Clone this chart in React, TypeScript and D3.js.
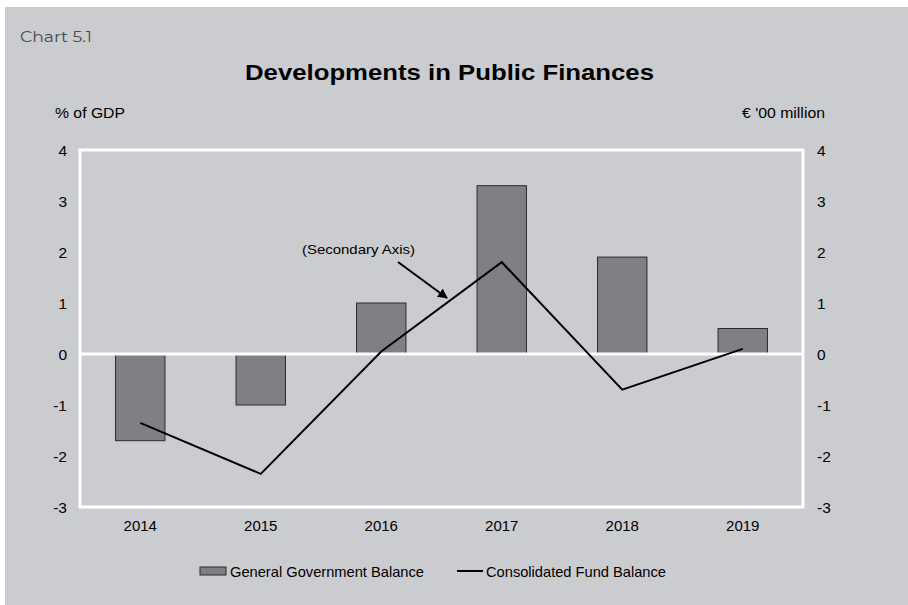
import React from "react";
import * as d3 from "d3";

const years = ["2014", "2015", "2016", "2017", "2018", "2019"];
const govBalance = [-1.7, -1.0, 1.0, 3.3, 1.9, 0.5];
const fundBalance = [-1.35, -2.35, 0.05, 1.8, -0.7, 0.1];
const yTicks = [-3, -2, -1, 0, 1, 2, 3, 4];

const W = 908, H = 605;
const plot = { left: 80, right: 803, top: 150, bottom: 507 };
const font = "Liberation Sans, Arial, sans-serif";

export default function App() {
  const x = d3.scaleBand<string>().domain(years).range([plot.left, plot.right]).paddingInner(0.59).paddingOuter(0.295);
  const y = d3.scaleLinear().domain([-3, 4]).range([plot.bottom, plot.top]);
  const y2 = d3.scaleLinear().domain([-3, 4]).range([plot.bottom, plot.top]);
  const cx = (d: string) => (x(d) as number) + x.bandwidth() / 2;
  const line = d3.line<number>().x((_, i) => cx(years[i])).y((d) => y2(d));

  return (
    <div style={{ position: "absolute", left: 0, top: 0 }}>
      <svg width={W} height={H} style={{ display: "block" }}>
        <defs>
          <marker id="arr" viewBox="0 0 10 10" refX="9" refY="5" markerWidth="5" markerHeight="5" orient="auto">
            <path d="M0,0 L10,5 L0,10 z" fill="#000" />
          </marker>
        </defs>
        <rect x={0} y={0} width={W} height={H} fill="#ffffff" />
        <rect x={5} y={7} width={W - 5} height={H - 7} fill="#cbcccf" />
        <text x={20} y={42} fontFamily="Montserrat, Open Sans, sans-serif" fontSize={15.5} fill="#4a4a4a" textLength={72} lengthAdjust="spacingAndGlyphs">Chart 5.1</text>
        <text x={245} y={80} fontFamily={font} fontWeight="bold" fontSize={22.5} fill="#000" textLength={409} lengthAdjust="spacingAndGlyphs">Developments in Public Finances</text>
        <text x={55} y={118} fontFamily={font} fontSize={14.5} fill="#000" textLength={70} lengthAdjust="spacingAndGlyphs">% of GDP</text>
        <text x={742} y={118} fontFamily={font} fontSize={14.5} fill="#000" textLength={83} lengthAdjust="spacingAndGlyphs">€ '00 million</text>

        {/* plot frame */}
        <rect x={plot.left} y={plot.top} width={plot.right - plot.left} height={plot.bottom - plot.top} fill="none" stroke="#ffffff" strokeWidth={3} />

        {/* bars */}
        {govBalance.map((v, i) => (
          <rect key={years[i]} x={x(years[i])} y={y(Math.max(0, v))} width={x.bandwidth()} height={Math.abs(y(v) - y(0))} fill="#7f7f84" stroke="#2a2a2a" strokeWidth={1} />
        ))}
        <line x1={plot.left} x2={plot.right} y1={y(0)} y2={y(0)} stroke="#ffffff" strokeWidth={3} />

        {/* line */}
        <path d={line(fundBalance) as string} fill="none" stroke="#000" strokeWidth={2} />

        {/* annotation */}
        <text x={302} y={254} fontFamily={font} fontSize={13.5} fill="#000" textLength={113} lengthAdjust="spacingAndGlyphs">(Secondary Axis)</text>
        <line x1={398} y1={262} x2={447} y2={298} stroke="#000" strokeWidth={2} markerEnd="url(#arr)" />

        {/* axes */}
        {yTicks.map((t) => (
          <text key={"l" + t} x={67} y={y(t) + 5.5} textAnchor="end" fontFamily={font} fontSize={15.5} fill="#000">{t}</text>
        ))}
        {yTicks.map((t) => (
          <text key={"r" + t} x={817} y={y2(t) + 5.5} textAnchor="start" fontFamily={font} fontSize={15.5} fill="#000">{t}</text>
        ))}
        {years.map((yr) => (
          <text key={yr} x={cx(yr)} y={531} textAnchor="middle" fontFamily={font} fontSize={15} fill="#000">{yr}</text>
        ))}

        {/* legend */}
        <rect x={200} y={567} width={26} height={8} fill="#7f7f84" stroke="#2a2a2a" strokeWidth={1} />
        <text x={230} y={577} fontFamily={font} fontSize={14.5} fill="#000" textLength={194} lengthAdjust="spacingAndGlyphs">General Government Balance</text>
        <line x1={457} x2={483} y1={571} y2={571} stroke="#000" strokeWidth={2} />
        <text x={486} y={577} fontFamily={font} fontSize={14.5} fill="#000" textLength={180} lengthAdjust="spacingAndGlyphs">Consolidated Fund Balance</text>
      </svg>
    </div>
  );
}
